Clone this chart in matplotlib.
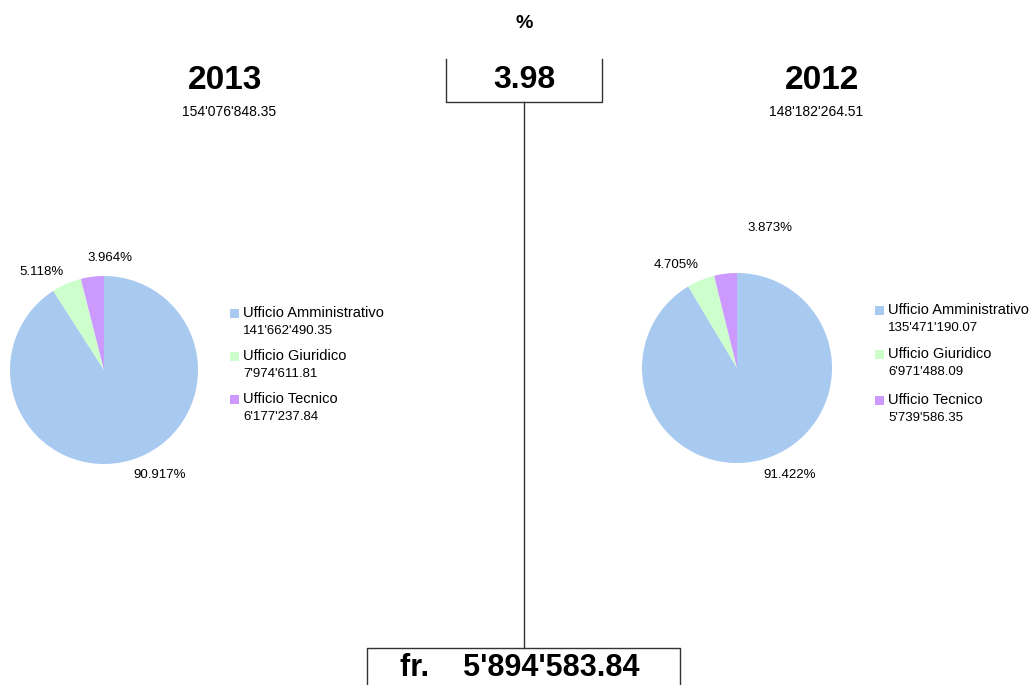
import matplotlib
matplotlib.use("Agg")
import matplotlib.pyplot as plt

plt.rcParams["font.family"] = ["Liberation Sans", "DejaVu Sans"]

W, H = 1034, 685

offices = ["Ufficio Amministrativo", "Ufficio Giuridico", "Ufficio Tecnico"]
values_2013 = [141662490.35, 7974611.81, 6177237.84]
values_2012 = [135471190.07, 6971488.09, 5739586.35]
pct_2013 = [90.917, 5.118, 3.964]
pct_2012 = [91.422, 4.705, 3.873]
total_2013 = "154'076'848.35"
total_2012 = "148'182'264.51"
diff_pct = "3.98"
diff_amount = "5'894'583.84"
colors = ["#A8C9F0", "#CCFFCC", "#CC99FF"]


def fmt(v):
    s = f"{v:,.2f}"
    return s.replace(",", "'")


fig = plt.figure(figsize=(W / 100, H / 100), dpi=100)
ov = fig.add_axes([0, 0, 1, 1])
ov.set_xlim(0, W)
ov.set_ylim(H, 0)
ov.axis("off")

# central connector
lc = "#333333"
ov.plot([446, 446, 602, 602], [59, 102, 102, 59], color=lc, lw=1)
ov.plot([524, 524], [102, 648], color=lc, lw=1)
ov.plot([367, 367, 680, 680], [690, 648, 648, 690], color=lc, lw=1)
ov.text(524, 23, "%", ha="center", va="center", fontsize=14, fontweight="bold")
ov.text(524, 80, diff_pct, ha="center", va="center", fontsize=23, fontweight="bold")
ov.text(520, 668, "fr.    " + diff_amount, ha="center", va="center",
        fontsize=22, fontweight="bold")

# year headers
ov.text(225, 80, "2013", ha="center", va="center", fontsize=24, fontweight="bold")
ov.text(229, 112, total_2013, ha="center", va="center", fontsize=10)
ov.text(822, 80, "2012", ha="center", va="center", fontsize=24, fontweight="bold")
ov.text(816, 112, total_2012, ha="center", va="center", fontsize=10)


def draw_pie(cx, cy, r, vals, pcts, label_pos, leg_x, leg_y):
    ax = fig.add_axes([(cx - r) / W, 1 - (cy + r) / H, 2 * r / W, 2 * r / H])
    ax.pie(vals, colors=colors, startangle=90, counterclock=False, radius=1,
           wedgeprops=dict(linewidth=0))
    ax.set_xlim(-1, 1)
    ax.set_ylim(-1, 1)
    ax.axis("off")
    for p, (x, y) in zip(pcts, label_pos):
        ov.text(x, y, f"{p:.3f}%", ha="center", va="center", fontsize=9.5)
    for i, (name, v) in enumerate(zip(offices, vals)):
        y0 = leg_y[i]
        ov.add_patch(plt.Rectangle((leg_x - 13, y0 - 4.5), 9, 9,
                                   color=colors[i], lw=0))
        ov.text(leg_x, y0, name, ha="left", va="center", fontsize=10.5)
        ov.text(leg_x, y0 + 17.5, fmt(v), ha="left", va="center", fontsize=9.5)


draw_pie(104, 370, 94, values_2013, pct_2013,
         [(160, 475), (42, 272), (110, 258)], 243, [313, 356, 399])
draw_pie(737, 368, 95, values_2012, pct_2012,
         [(790, 475), (676, 265), (770, 228)], 888, [310, 354, 400])

fig.savefig("out.png", dpi=100)
